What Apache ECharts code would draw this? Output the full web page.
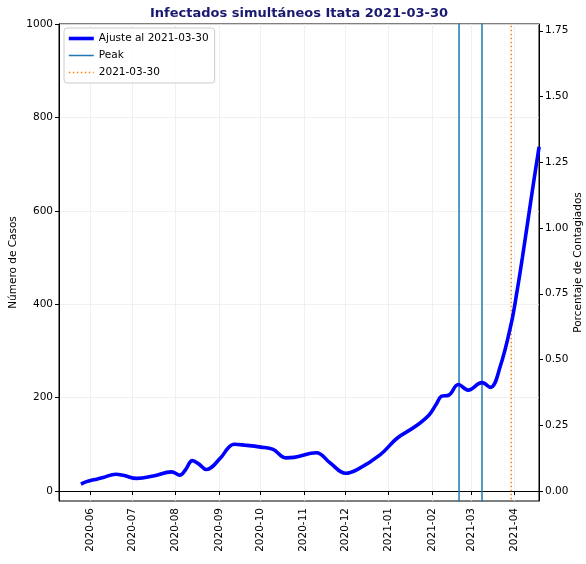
<!DOCTYPE html>
<html>
<head>
<meta charset="utf-8">
<script src="https://cdn.jsdelivr.net/npm/echarts@6/dist/echarts.min.js"></script>
<style>html,body{margin:0;padding:0;background:#fff}#c{width:586px;height:564px}</style>
</head>
<body>
<div id="c"></div>
<script>
const titleText = 'Infectados simultáneos Itata 2021-03-30';
const fitName = 'Ajuste al 2021-03-30';
const dates = ['2020-05-25','2020-05-29','2020-06-03','2020-06-10','2020-06-19','2020-06-25','2020-07-04','2020-07-16','2020-07-29','2020-08-04','2020-08-08','2020-08-13','2020-08-18','2020-08-23','2020-09-02','2020-09-08','2020-09-12','2020-09-20','2020-10-01','2020-10-10','2020-10-19','2020-10-25','2020-11-10','2020-11-20','2020-12-01','2020-12-10','2020-12-26','2021-01-07','2021-01-20','2021-01-30','2021-02-04','2021-02-08','2021-02-13','2021-02-20','2021-02-27','2021-03-09','2021-03-15','2021-03-22','2021-03-30','2021-04-03','2021-04-07','2021-04-11','2021-04-15','2021-04-19'];
const cases = [15,20,24,29,36,33,27,32,41,34,45,65,57,46,70,93,100,98,94,89,71,72,82,60,38,47,78,113,138,163,185,203,205,228,216,232,222,266,359,425,500,580,660,737];
const peakDates = ['2021-02-20T12:00:00','2021-03-09'];
const cutDate = '2021-03-30';
const monthTicks = ['2020-06','2020-07','2020-08','2020-09','2020-10','2020-11','2020-12','2021-01','2021-02','2021-03','2021-04'];
const leftTicks = [0,200,400,600,800,1000];
const rightTicks = [0,0.25,0.5,0.75,1.0,1.25,1.5,1.75];

const t = s => +echarts.time.parse(s);
const font = 'DejaVu Sans';
const xMin = t('2020-05-09T06:00:00'), xMax = t('2021-04-18T22:00:00');
const yMin = -21.4, yMax = 1000;
const monthVals = monthTicks.map(m => t(m + '-01'));

const series = [{
  name: fitName, type: 'line', yAxisIndex: 0, smooth: 0.4, symbol: 'none',
  lineStyle: {color: '#0000ff', width: 3.6}, itemStyle: {color: '#0000ff'},
  data: dates.map((d, i) => [t(d), cases[i]]), z: 5
}];
peakDates.forEach(d => series.push({
  name: 'Peak', type: 'line', yAxisIndex: 0, symbol: 'none', silent: true,
  lineStyle: {color: '#1f77b4', width: 1.5}, itemStyle: {color: '#1f77b4'},
  data: [[t(d), yMin - 5], [t(d), yMax + 5]], z: 4
}));
series.push({
  name: cutDate, type: 'line', yAxisIndex: 0, symbol: 'none', silent: true,
  lineStyle: {color: '#ff7f0e', width: 1.5, type: [1.5, 2.5]}, itemStyle: {color: '#ff7f0e'},
  data: [[t(cutDate), yMin - 5], [t(cutDate), yMax + 5]], z: 4
});

const chart = echarts.init(document.getElementById('c'), null, {renderer: 'canvas'});
chart.setOption({
  animation: false,
  backgroundColor: '#fff',
  textStyle: {fontFamily: font},
  grid: {left: 59, right: 47, top: 24, bottom: 63, outerBoundsMode: 'none', containLabel: false,
    show: true, borderColor: '#000', borderWidth: 1, backgroundColor: 'transparent'},
  graphic: [{type: 'text', x: 299, y: 14, style: {text: titleText, align: 'center', verticalAlign: 'middle', font: 'bold 13px "DejaVu Sans"', fill: '#191970'}}],
  legend: {
    orient: 'vertical', left: 64, top: 28, itemWidth: 25, itemHeight: 10, itemGap: 6,
    padding: [5, 6, 5, 3], backgroundColor: 'rgba(255,255,255,0.8)', borderColor: '#cccccc', borderWidth: 1, borderRadius: 3,
    itemStyle: {opacity: 0},
    textStyle: {fontFamily: font, fontSize: 10.5, color: '#000'},
    data: [{name: fitName, lineStyle: {width: 3.6}}, {name: 'Peak', lineStyle: {width: 1.5}}, {name: cutDate, lineStyle: {width: 1.5}}]
  },
  xAxis: {
    type: 'value', min: xMin, max: xMax,
    axisLine: {show: true, lineStyle: {color: '#000', width: 1}},
    axisTick: {show: true, length: 4, customValues: monthVals, lineStyle: {color: '#000'}},
    axisLabel: {customValues: monthVals, rotate: 90, margin: 7, fontSize: 10.5, color: '#000', fontFamily: font,
      formatter: v => echarts.time.format(v, '{yyyy}-{MM}', false)},
    splitLine: {show: true, lineStyle: {color: '#ececec', width: 0.8}}
  },
  yAxis: [{
    type: 'value', min: yMin, max: yMax, position: 'left',
    name: 'Número de Casos', nameLocation: 'middle', nameGap: 40, nameRotate: 90, nameMoveOverlap: false,
    nameTextStyle: {fontFamily: font, fontSize: 10.5, color: '#000'},
    axisLine: {show: true, lineStyle: {color: '#000'}},
    axisTick: {show: true, length: 4, customValues: leftTicks, lineStyle: {color: '#000'}},
    axisLabel: {customValues: leftTicks, margin: 6, fontSize: 10.5, color: '#000', fontFamily: font, formatter: v => String(v)},
    splitLine: {show: true, lineStyle: {color: '#ececec', width: 0.8}}
  }, {
    type: 'value', min: -10 / 263, max: 467 / 263, position: 'right',
    name: 'Porcentaje de Contagiados', nameLocation: 'middle', nameGap: 34, nameRotate: 90, nameMoveOverlap: false,
    nameTextStyle: {fontFamily: font, fontSize: 10.5, color: '#000'},
    axisLine: {show: true, lineStyle: {color: '#000'}},
    axisTick: {show: true, length: 4, customValues: rightTicks, lineStyle: {color: '#000'}},
    axisLabel: {customValues: rightTicks, margin: 6, fontSize: 10.5, color: '#000', fontFamily: font, formatter: v => v.toFixed(2)},
    splitLine: {show: false}
  }],
  series: series
});
</script>
</body>
</html>
